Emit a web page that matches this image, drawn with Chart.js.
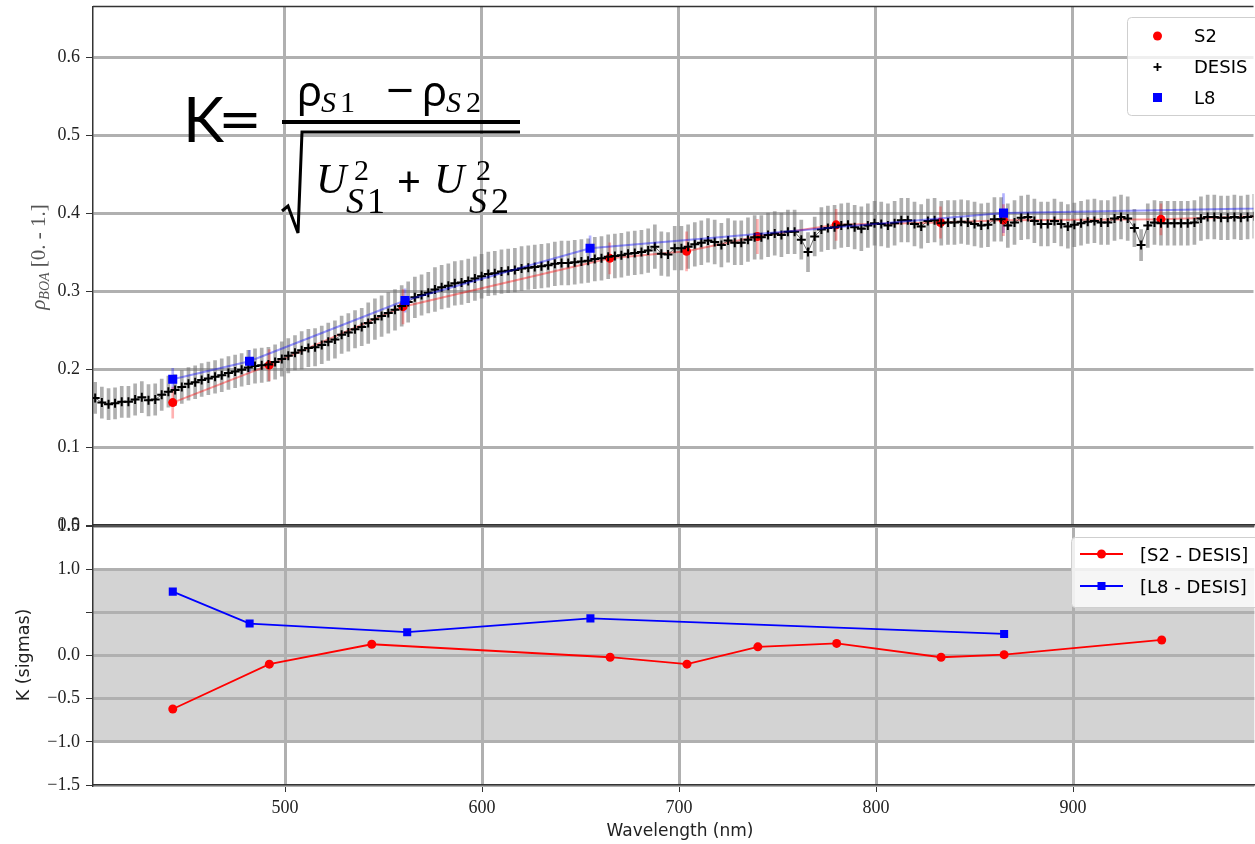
<!DOCTYPE html>
<html>
<head>
<meta charset="utf-8">
<title>S2 / DESIS / L8 BOA reflectance comparison</title>
<script src="https://cdn.jsdelivr.net/npm/chart.js"></script>
<style>
    body {
        margin: 0;
        background: #fff;
        width: 1255px;
        height: 844px;
        overflow: hidden;
        position: relative;
    }
    canvas { position: absolute; left: 0; }
    #topChart { top: 0; }
    #botChart { top: 500px; }
    #overlay { position: absolute; left: 0; top: 0; pointer-events: none; }
</style>
</head>
<body>
<canvas id="topChart" width="1260" height="545"></canvas>
<canvas id="botChart" width="1260" height="344"></canvas>

<svg id="overlay" width="1255" height="844" xmlns="http://www.w3.org/2000/svg">
    <!-- formula -->
    <g fill="#000">
        <text x="183" y="142" font-family="Lato" font-size="62">K</text>
        <text x="218" y="142" font-family="Lato" font-size="62" textLength="44" lengthAdjust="spacingAndGlyphs">=</text>
        <text x="297" y="106" font-family="Noto Sans" font-size="42">ρ</text>
        <text x="321" y="112" font-family="Liberation Serif" font-style="italic" font-size="30">S</text>
        <text x="340" y="112" font-family="Liberation Serif" font-size="30">1</text>
        <text x="386" y="106" font-family="Noto Sans" font-size="44" textLength="28" lengthAdjust="spacingAndGlyphs">−</text>
        <text x="422" y="106" font-family="Noto Sans" font-size="42">ρ</text>
        <text x="446" y="112" font-family="Liberation Serif" font-style="italic" font-size="30">S</text>
        <text x="466" y="112" font-family="Liberation Serif" font-size="30">2</text>
        <text x="316" y="193" font-family="Liberation Serif" font-style="italic" font-size="42">U</text>
        <text x="354" y="180" font-family="Liberation Serif" font-size="30">2</text>
        <text x="346" y="213" font-family="Liberation Serif" font-style="italic" font-size="36">S</text>
        <text x="367" y="213" font-family="Liberation Serif" font-size="36">1</text>
        <text x="397" y="197" font-family="Noto Sans" font-size="42">+</text>
        <text x="434" y="193" font-family="Liberation Serif" font-style="italic" font-size="42">U</text>
        <text x="476" y="180" font-family="Liberation Serif" font-size="30">2</text>
        <text x="469" y="213" font-family="Liberation Serif" font-style="italic" font-size="36">S</text>
        <text x="491" y="213" font-family="Liberation Serif" font-size="36">2</text>
    </g>
    <line x1="282" y1="122" x2="520" y2="122" stroke="#000" stroke-width="4"/>
    <polyline points="282,211 288,206 298,233 302,132 520,132" fill="none" stroke="#000" stroke-width="3"/>

    <!-- axis titles -->
    <text transform="translate(45,257) rotate(-90)" text-anchor="middle" font-family="Liberation Serif" font-size="21" fill="#555"><tspan font-style="italic">ρ</tspan><tspan font-style="italic" font-size="14" dy="4">BOA</tspan><tspan dy="-4"> [0. - 1.]</tspan></text>
    <text transform="translate(29,655) rotate(-90)" text-anchor="middle" font-family="DejaVu Sans" font-size="17.5" fill="#222">K (sigmas)</text>
    <text x="680" y="836" text-anchor="middle" font-family="DejaVu Sans" font-size="17" fill="#222">Wavelength (nm)</text>

    <!-- top legend -->
    <rect x="1127.5" y="17.5" width="140" height="98" rx="4" fill="rgba(255,255,255,0.8)" stroke="#cfcfcf"/>
    <circle cx="1157.5" cy="36" r="4.5" fill="#ff0000"/>
    <line x1="1153.5" y1="67" x2="1161.5" y2="67" stroke="#000" stroke-width="1.8"/>
    <line x1="1157.5" y1="63" x2="1157.5" y2="71" stroke="#000" stroke-width="1.8"/>
    <rect x="1153" y="93" width="9" height="9" fill="#0000ff"/>
    <g font-family="DejaVu Sans" font-size="18" fill="#000">
        <text x="1194" y="42">S2</text>
        <text x="1194" y="73">DESIS</text>
        <text x="1194" y="104">L8</text>
    </g>

    <!-- bottom legend -->
    <rect x="1071.5" y="537.5" width="200" height="70" rx="4" fill="rgba(255,255,255,0.8)" stroke="#cfcfcf"/>
    <line x1="1080" y1="554" x2="1123" y2="554" stroke="#ff0000" stroke-width="1.8"/>
    <circle cx="1101.5" cy="554" r="4.5" fill="#ff0000"/>
    <line x1="1080" y1="586" x2="1123" y2="586" stroke="#0000ff" stroke-width="1.8"/>
    <rect x="1097.5" y="582" width="8" height="8" fill="#0000ff"/>
    <g font-family="DejaVu Sans" font-size="18" fill="#000">
        <text x="1140" y="561">[S2 - DESIS]</text>
        <text x="1140" y="593">[L8 - DESIS]</text>
    </g>
</svg>

<script>
// DESIS spectrum (nm, reflectance, 1-sigma uncertainty)
const desisWl = [
    403.6, 407.0, 410.4, 413.7, 417.1, 420.5, 423.9, 427.3, 430.7, 434.1,
    437.4, 440.8, 444.2, 447.6, 451.0, 454.4, 457.7, 461.1, 464.5, 467.9,
    471.3, 474.7, 478.0, 481.4, 484.8, 488.2, 491.6, 495.0, 498.4, 501.7,
    505.1, 508.5, 511.9, 515.3, 518.7, 522.0, 525.4, 528.8, 532.2, 535.6,
    539.0, 542.3, 545.7, 549.1, 552.5, 555.9, 559.3, 562.6, 566.0, 569.4,
    572.8, 576.2, 579.6, 583.0, 586.3, 589.7, 593.1, 596.5, 599.9, 603.3,
    606.6, 610.0, 613.4, 616.8, 620.2, 623.6, 626.9, 630.3, 633.7, 637.1,
    640.5, 643.9, 647.2, 650.6, 654.0, 657.4, 660.8, 664.2, 667.6, 670.9,
    674.3, 677.7, 681.1, 684.5, 687.9, 691.2, 694.6, 698.0, 701.4, 704.8,
    708.2, 711.5, 714.9, 718.3, 721.7, 725.1, 728.5, 731.8, 735.2, 738.6,
    742.0, 745.4, 748.8, 752.2, 755.5, 758.9, 762.3, 765.7, 769.1, 772.5,
    775.8, 779.2, 782.6, 786.0, 789.4, 792.8, 796.1, 799.5, 802.9, 806.3,
    809.7, 813.1, 816.4, 819.8, 823.2, 826.6, 830.0, 833.4, 836.8, 840.1,
    843.5, 846.9, 850.3, 853.7, 857.1, 860.4, 863.8, 867.2, 870.6, 874.0,
    877.4, 880.7, 884.1, 887.5, 890.9, 894.3, 897.7, 901.0, 904.4, 907.8,
    911.2, 914.6, 918.0, 921.4, 924.7, 928.1, 931.5, 934.9, 938.3, 941.7,
    945.0, 948.4, 951.8, 955.2, 958.6, 962.0, 965.3, 968.7, 972.1, 975.5,
    978.9, 982.3, 985.6, 989.0, 992.4
];
const desisRho = [
    0.163, 0.157, 0.155, 0.156, 0.158, 0.158, 0.161, 0.164, 0.160, 0.161,
    0.167, 0.171, 0.173, 0.177, 0.181, 0.183, 0.186, 0.188, 0.190, 0.192,
    0.195, 0.197, 0.199, 0.202, 0.204, 0.205, 0.206, 0.209, 0.213, 0.217,
    0.221, 0.224, 0.227, 0.228, 0.231, 0.235, 0.238, 0.244, 0.247, 0.251,
    0.254, 0.259, 0.264, 0.268, 0.272, 0.276, 0.281, 0.286, 0.292, 0.295,
    0.298, 0.302, 0.305, 0.307, 0.310, 0.311, 0.313, 0.316, 0.319, 0.322,
    0.323, 0.325, 0.326, 0.327, 0.329, 0.330, 0.331, 0.332, 0.333, 0.335,
    0.336, 0.336, 0.337, 0.338, 0.339, 0.341, 0.342, 0.344, 0.345, 0.346,
    0.348, 0.349, 0.350, 0.352, 0.357, 0.348, 0.347, 0.355, 0.355, 0.357,
    0.360, 0.362, 0.365, 0.363, 0.359, 0.365, 0.362, 0.362, 0.366, 0.369,
    0.369, 0.372, 0.374, 0.372, 0.376, 0.376, 0.366, 0.350, 0.370, 0.379,
    0.381, 0.382, 0.384, 0.385, 0.382, 0.380, 0.384, 0.387, 0.386, 0.384,
    0.387, 0.391, 0.391, 0.386, 0.383, 0.390, 0.391, 0.387, 0.388, 0.388,
    0.389, 0.388, 0.386, 0.384, 0.385, 0.392, 0.392, 0.384, 0.388, 0.394,
    0.395, 0.390, 0.386, 0.386, 0.390, 0.386, 0.383, 0.385, 0.387, 0.389,
    0.390, 0.388, 0.388, 0.393, 0.395, 0.393, 0.381, 0.359, 0.384, 0.388,
    0.387, 0.387, 0.387, 0.387, 0.387, 0.388, 0.393, 0.395, 0.395, 0.394,
    0.394, 0.395, 0.394, 0.395, 0.396
];
const desisUnc = [
    0.020, 0.020, 0.020, 0.020, 0.020, 0.020, 0.020, 0.020, 0.020, 0.020,
    0.020, 0.020, 0.020, 0.021, 0.021, 0.021, 0.021, 0.021, 0.021, 0.021,
    0.021, 0.021, 0.021, 0.022, 0.022, 0.022, 0.022, 0.022, 0.022, 0.022,
    0.022, 0.024, 0.024, 0.024, 0.024, 0.024, 0.024, 0.024, 0.024, 0.024,
    0.024, 0.026, 0.026, 0.026, 0.026, 0.026, 0.026, 0.026, 0.026, 0.026,
    0.026, 0.028, 0.028, 0.028, 0.028, 0.028, 0.028, 0.028, 0.028, 0.028,
    0.028, 0.028, 0.028, 0.028, 0.028, 0.028, 0.028, 0.028, 0.028, 0.028,
    0.028, 0.028, 0.028, 0.028, 0.028, 0.028, 0.028, 0.028, 0.028, 0.028,
    0.028, 0.028, 0.028, 0.028, 0.028, 0.028, 0.028, 0.028, 0.028, 0.028,
    0.028, 0.028, 0.028, 0.028, 0.028, 0.028, 0.028, 0.028, 0.028, 0.028,
    0.028, 0.028, 0.028, 0.028, 0.028, 0.028, 0.025, 0.025, 0.025, 0.028,
    0.028, 0.028, 0.028, 0.028, 0.028, 0.028, 0.028, 0.028, 0.028, 0.028,
    0.028, 0.028, 0.028, 0.028, 0.028, 0.028, 0.028, 0.028, 0.028, 0.028,
    0.028, 0.028, 0.028, 0.028, 0.028, 0.028, 0.028, 0.028, 0.028, 0.028,
    0.028, 0.028, 0.028, 0.028, 0.028, 0.028, 0.028, 0.028, 0.028, 0.028,
    0.028, 0.028, 0.028, 0.028, 0.028, 0.028, 0.024, 0.020, 0.028, 0.028,
    0.028, 0.028, 0.028, 0.028, 0.028, 0.028, 0.028, 0.028, 0.028, 0.028,
    0.028, 0.028, 0.028, 0.028, 0.028
];

// Sentinel-2 bands
const s2Wl  = [443, 492, 560, 665, 704, 740, 780, 833, 865, 945, 1610];
const s2Rho = [0.157, 0.205, 0.280, 0.342, 0.351, 0.370, 0.385, 0.388, 0.391, 0.392, 0.445];
const s2Unc = [0.020, 0.020, 0.022, 0.020, 0.025, 0.022, 0.020, 0.020, 0.020, 0.020, 0.020];

// Landsat 8 bands
const l8Wl  = [443, 482, 561, 655, 865, 1609];
const l8Rho = [0.187, 0.210, 0.288, 0.355, 0.400, 0.435];
const l8Unc = [0.014, 0.014, 0.015, 0.016, 0.025, 0.020];

// K statistic (sigmas)
const kS2Wl = [443, 492, 544, 665, 704, 740, 780, 833, 865, 945];
const kS2   = [-0.62, -0.10, 0.13, -0.02, -0.10, 0.10, 0.14, -0.02, 0.01, 0.18];
const kL8Wl = [443, 482, 562, 655, 865];
const kL8   = [0.74, 0.37, 0.27, 0.43, 0.25];
const kBand = [-1, 1];

// axes
const xRange = [402.5, 992];
const xTicks = [500, 600, 700, 800, 900];
const rhoRange = [0, 0.665];
const rhoTicks = [0, 0.1, 0.2, 0.3, 0.4, 0.5, 0.6];
const kRange = [-1.5, 1.5];
const kTicks = [-1.5, -1.0, -0.5, 0, 0.5, 1.0, 1.5];

const gridColor = '#b0b0b0';
const spineColor = '#333';
const tickFont = { family: 'Liberation Serif', size: 18 };

function pts(xs, ys) {
    return xs.map((x, i) => ({ x: x, y: ys[i] }));
}
function errs(xs, ys, us) {
    return xs.map((x, i) => ({ x: x, y: [ys[i] - us[i], ys[i] + us[i]] }));
}
function fixedTicks(list) {
    return scale => { scale.ticks = list.map(v => ({ value: v })); };
}

const topSpine = {
    id: 'topSpine',
    afterDraw(chart) {
        const a = chart.chartArea, ctx = chart.ctx;
        ctx.save();
        ctx.strokeStyle = spineColor;
        ctx.lineWidth = 1.5;
        ctx.beginPath();
        ctx.moveTo(a.left, a.top);
        ctx.lineTo(a.right, a.top);
        ctx.stroke();
        ctx.restore();
    }
};

const sigmaBand = {
    id: 'sigmaBand',
    beforeDraw(chart) {
        const a = chart.chartArea, ctx = chart.ctx, y = chart.scales.y;
        const y1 = y.getPixelForValue(kBand[1]), y0 = y.getPixelForValue(kBand[0]);
        ctx.save();
        ctx.fillStyle = '#d3d3d3';
        ctx.fillRect(a.left, y1, a.right - a.left, y0 - y1);
        ctx.restore();
    }
};

function yAxis(range, ticks, labelFn) {
    return {
        type: 'linear',
        min: range[0],
        max: range[1],
        afterBuildTicks: fixedTicks(ticks),
        afterFit: s => { s.width = 93; s.paddingTop = 0; s.paddingBottom = 0; },
        grid: { color: gridColor, lineWidth: 3, tickColor: spineColor, tickLength: 7, tickWidth: 1 },
        border: { color: spineColor, width: 1.5 },
        ticks: { font: tickFont, color: '#222', padding: 6, callback: labelFn }
    };
}

function xAxis(showLabels, height) {
    return {
        type: 'linear',
        min: xRange[0],
        max: xRange[1],
        offset: false,
        afterBuildTicks: fixedTicks(xTicks),
        afterFit: s => { s.height = height; s.paddingLeft = 0; s.paddingRight = 0; },
        grid: { color: gridColor, lineWidth: 3, offset: false, tickColor: spineColor,
                tickLength: 7, tickWidth: 1, drawTicks: showLabels },
        border: { color: spineColor, width: 1.5 },
        ticks: { display: showLabels, font: tickFont, color: '#222', padding: 5, maxRotation: 0 }
    };
}

const fmt = v => v.toFixed(1).replace('-', '\u2212');

new Chart(document.getElementById('topChart'), {
    type: 'line',
    data: {
        datasets: [
            {
                type: 'bar', label: 'DESIS unc', data: errs(desisWl, desisRho, desisUnc),
                backgroundColor: 'rgba(110,110,110,0.55)', barThickness: 3, grouped: false, order: 6
            },
            {
                type: 'bar', label: 'S2 unc', data: errs(s2Wl, s2Rho, s2Unc),
                backgroundColor: 'rgba(255,0,0,0.3)', barThickness: 2, grouped: false, order: 5
            },
            {
                type: 'bar', label: 'L8 unc', data: errs(l8Wl, l8Rho, l8Unc),
                backgroundColor: 'rgba(0,0,255,0.3)', barThickness: 2, grouped: false, order: 5
            },
            {
                label: 'S2', data: pts(s2Wl, s2Rho),
                borderColor: 'rgba(255,0,0,0.4)', borderWidth: 2,
                pointBackgroundColor: '#ff0000', pointBorderColor: '#ff0000',
                pointRadius: 4.5, pointBorderWidth: 0, order: 4
            },
            {
                label: 'DESIS', data: pts(desisWl, desisRho),
                borderColor: 'rgba(0,0,0,0.55)', borderWidth: 1,
                pointStyle: 'cross', pointRadius: 4.5, pointBorderColor: '#000',
                pointBorderWidth: 2, order: 3
            },
            {
                label: 'L8', data: pts(l8Wl, l8Rho),
                borderColor: 'rgba(0,0,255,0.4)', borderWidth: 2,
                pointStyle: 'rect', pointRadius: 6.4, pointBackgroundColor: '#0000ff',
                pointBorderColor: '#0000ff', pointBorderWidth: 0, order: 2
            }
        ]
    },
    options: {
        responsive: false,
        animation: false,
        layout: { padding: { top: 6, left: 0, right: 0, bottom: 0 } },
        plugins: { legend: { display: false }, tooltip: { enabled: false } },
        scales: {
            x: xAxis(false, 20),
            y: yAxis(rhoRange, rhoTicks, v => v.toFixed(1))
        }
    },
    plugins: [topSpine]
});

new Chart(document.getElementById('botChart'), {
    type: 'line',
    data: {
        datasets: [
            {
                label: '[S2 - DESIS]', data: pts(kS2Wl, kS2),
                borderColor: '#ff0000', borderWidth: 1.8,
                pointBackgroundColor: '#ff0000', pointBorderColor: '#ff0000',
                pointRadius: 4.5, pointBorderWidth: 0
            },
            {
                label: '[L8 - DESIS]', data: pts(kL8Wl, kL8),
                borderColor: '#0000ff', borderWidth: 1.8,
                pointStyle: 'rect', pointRadius: 5.7, pointBackgroundColor: '#0000ff',
                pointBorderColor: '#0000ff', pointBorderWidth: 0
            }
        ]
    },
    options: {
        responsive: false,
        animation: false,
        layout: { padding: { top: 26, left: 0, right: 0, bottom: 0 } },
        plugins: { legend: { display: false }, tooltip: { enabled: false } },
        scales: {
            x: xAxis(true, 59),
            y: yAxis(kRange, kTicks, v => (v === 0.5 ? '' : fmt(v)))
        }
    },
    plugins: [sigmaBand, topSpine]
});
</script>
</body>
</html>
